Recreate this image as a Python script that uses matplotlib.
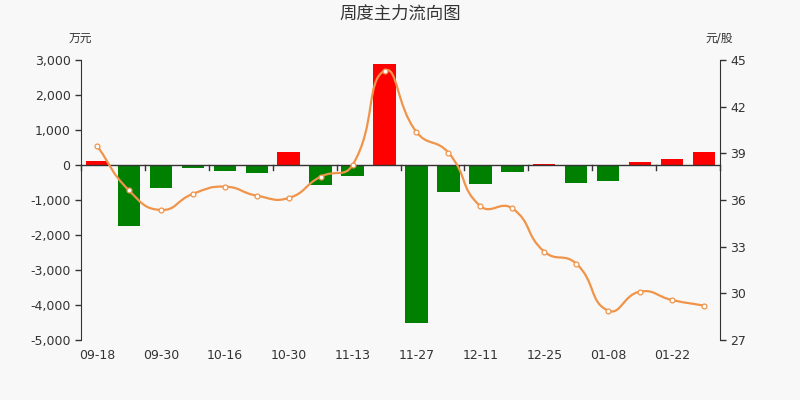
import matplotlib
matplotlib.use("Agg")
import matplotlib.pyplot as plt
from matplotlib.path import Path
from matplotlib.patches import PathPatch
import numpy as np

plt.rcParams['font.family'] = ['DejaVu Sans', 'Noto Sans CJK SC']

dates = ["09-18", "09-24", "09-30", "10-09", "10-16", "10-23", "10-30", "11-06",
         "11-13", "11-20", "11-27", "12-04", "12-11", "12-18", "12-25", "01-01",
         "01-08", "01-15", "01-22", "01-29"]
flow = [105, -1745, -670, -77, -170, -220, 362, -571, -314, 2877,
        -4505, -762, -534, -209, 37, -514, -467, 86, 171, 380]
price = [39.49, 36.62, 35.36, 36.39, 36.86, 36.28, 36.13, 37.50, 38.25, 44.31,
         40.37, 39.04, 35.61, 35.46, 32.68, 31.91, 28.89, 30.11, 29.57, 29.21]
tick_labels = ["09-18", "09-30", "10-16", "10-30", "11-13", "11-27", "12-11", "12-25", "01-08", "01-22"]

bg = '#f8f8f8'
fig = plt.figure(figsize=(8, 4), dpi=100, facecolor=bg)
ax = fig.add_axes([81/800, 60/400, 639/800, 280/400])
ax.set_facecolor(bg)
n = len(flow)
x = np.arange(n)
colors = ['#ff0000' if v >= 0 else '#008000' for v in flow]
ax.bar(x, flow, width=0.7, color=colors, zorder=2)
ax.set_xlim(-0.5, n - 0.5)
ax.set_ylim(-5000, 3000)
ax.set_yticks(np.arange(-5000, 3001, 1000))
ax.set_yticklabels([f"{v:,}" for v in range(-5000, 3001, 1000)])

for s in ['top', 'right', 'bottom']:
    ax.spines[s].set_visible(False)
ax.spines['left'].set_color('#333333')
ax.axhline(0, color='#333333', lw=1, zorder=3)
ax.tick_params(axis='y', colors='#333333', labelsize=9, length=4, width=1)
ax.set_xticks([])
for k in range(0, n + 1, 2):
    ax.plot([k - 0.5, k - 0.5], [0, -140], color='#333333', lw=1, zorder=3, clip_on=False)
for i, lab in enumerate(tick_labels):
    ax.text(2 * i, -5250, lab, ha='center', va='top', fontsize=9, color='#333333')

ax2 = ax.twinx()
ax2.set_ylim(27, 45)
ax2.set_yticks([27, 30, 33, 36, 39, 42, 45])
for s in ['top', 'left', 'bottom']:
    ax2.spines[s].set_visible(False)
ax2.spines['right'].set_color('#333333')
ax2.tick_params(axis='y', colors='#333333', labelsize=9, length=4, width=1)

# echarts-like smooth line (bezier), computed in pixel-like scaled space
sx, sy = 32.0, 280.0 / 18.0
P = np.column_stack([x * sx, np.array(price) * sy])
smooth = 0.5
cps_prev = []
cps_next = []
for i in range(n):
    p = P[i]
    prv = P[i - 1] if i > 0 else p
    nxt = P[i + 1] if i < n - 1 else p
    v = nxt - prv
    d0 = np.hypot(*(p - prv))
    d1 = np.hypot(*(nxt - p))
    r = d1 / (d0 + d1) if (d0 + d1) > 0 else 0.5
    cps_next.append(p + v * smooth * r)
    cps_prev.append(p - v * smooth * (1 - r))
verts = [P[0]]
codes = [Path.MOVETO]
for i in range(1, n):
    verts += [cps_next[i - 1], cps_prev[i], P[i]]
    codes += [Path.CURVE4] * 3
verts = np.array(verts)
verts[:, 0] /= sx
verts[:, 1] /= sy
path = Path(verts, codes)
ax2.add_patch(PathPatch(path, facecolor='none', edgecolor='#f0944a', lw=1.6, zorder=4))
ax2.plot(x, price, linestyle='none', marker='o', markersize=3.5,
         markerfacecolor='white', markeredgecolor='#f0944a', markeredgewidth=0.9, zorder=5)

fig.text(0.5, 1 - 14/400, "周度主力流向图", ha='center', va='center', fontsize=12.5, color='#333333')
fig.text(80/800, 1 - 38/400, "万元", ha='center', va='center', fontsize=8.5, color='#333333')
fig.text(719/800, 1 - 38/400, "元/股", ha='center', va='center', fontsize=8.5, color='#333333')

fig.savefig("out.png", dpi=100, facecolor=bg)
